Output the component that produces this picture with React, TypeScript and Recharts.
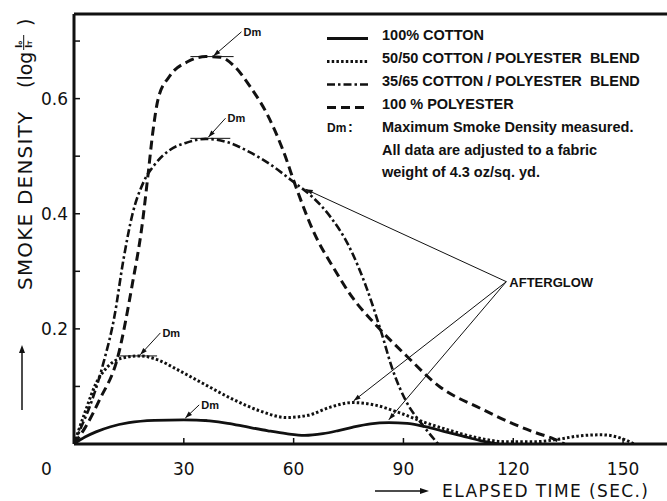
import { Legend, Line, LineChart, ReferenceDot, ReferenceLine, XAxis, YAxis } from "recharts";

// elapsed time (s) / smoke density
const cottonT = [0, 3, 6, 10, 15, 22, 30, 37, 42, 47, 53, 58, 63, 68, 72, 76, 81, 86, 91, 96, 101, 106, 111, 116];
const cottonV = [0, 0.012, 0.021, 0.03, 0.037, 0.041, 0.042, 0.04, 0.036, 0.03, 0.023, 0.018, 0.015, 0.018, 0.023, 0.029, 0.035, 0.037, 0.036, 0.03, 0.022, 0.014, 0.006, 0];

const blend5050T = [0, 3, 6, 9, 13, 18, 23, 28, 35, 43, 51, 58, 64, 70, 76, 82, 89, 96, 103, 110, 118, 126, 132, 138, 144, 149, 153];
const blend5050V = [0, 0.055, 0.105, 0.133, 0.149, 0.153, 0.146, 0.13, 0.106, 0.079, 0.057, 0.046, 0.05, 0.064, 0.072, 0.068, 0.054, 0.037, 0.023, 0.011, 0.004, 0.004, 0.008, 0.014, 0.016, 0.011, 0];

const blend3565T = [0, 2, 4, 8, 11, 13.5, 16, 19, 22, 26, 31, 36, 42, 48, 54, 60, 65, 70, 75, 80, 84, 87, 91, 95, 99.5];
const blend3565V = [0, 0.03, 0.06, 0.14, 0.22, 0.32, 0.4, 0.455, 0.485, 0.51, 0.524, 0.53, 0.524, 0.507, 0.484, 0.455, 0.43, 0.395, 0.345, 0.27, 0.193, 0.13, 0.071, 0.035, 0];

const polyT = [0, 3, 7, 12, 16, 18.5, 20.3, 21.5, 23, 26, 31, 36, 40, 44, 48, 53, 57, 61, 65.5, 71, 76, 82, 91, 100, 111, 120, 126, 131, 134];
const polyV = [0, 0.028, 0.077, 0.152, 0.28, 0.375, 0.472, 0.54, 0.6, 0.638, 0.664, 0.673, 0.672, 0.655, 0.622, 0.57, 0.512, 0.44, 0.368, 0.305, 0.255, 0.21, 0.152, 0.099, 0.062, 0.035, 0.02, 0.009, 0];

const SERIES_NAMES = ["100% COTTON", "50/50 COTTON / POLYESTER  BLEND", "35/65 COTTON / POLYESTER  BLEND", "100 % POLYESTER"];
const NOTE_LINES = ["Maximum Smoke Density measured.", "All data are adjusted to a fabric", "weight of 4.3 oz/sq. yd."];

const X_TICKS = [0, 30, 60, 90, 120, 150];
const Y_TICKS = [0.1, 0.2, 0.3, 0.4, 0.5, 0.6, 0.7];
const Y_LABELED = [0.2, 0.4, 0.6];
const X_MAX = 162;
const Y_MAX = 0.747;

// Dm markers: cotton, 50/50, 35/65, polyester
const dmFrom = [24.4, 12.6, 31.8, 31.8];
const dmTo = [36.4, 22.7, 42.7, 43.6];
const dmLevel = [0.042, 0.153, 0.531, 0.673];
const dmTailT = [34.2, 23.6, 41.4, 45.75];
const dmTailV = [0.068, 0.193, 0.566, 0.716];
const dmHeadT = [30.4, 18.1, 36.7, 38.1];
const dmHeadV = [0.045, 0.155, 0.533, 0.674];

// afterglow pointer
const glowT = 118.1;
const glowV = 0.282;
const glowTargetT = [63.3, 76.4, 86];
const glowTargetV = [0.4425, 0.075, 0.042];

const INK = "#111";
const STYLES = [
  { dash: undefined, width: 2.8 },
  { dash: "2.5 2.2", width: 3 },
  { dash: "8 3 2.5 3", width: 2.6 },
  { dash: "9 5", width: 3 },
];

const zip = (t: number[], v: number[]) => t.map((x, i) => ({ t: x, v: v[i] }));
const SERIES_DATA = [zip(cottonT, cottonV), zip(blend5050T, blend5050V), zip(blend3565T, blend3565V), zip(polyT, polyV)];

function arrowHead(x1: number, y1: number, x2: number, y2: number, len = 7, half = 2.4) {
  const a = Math.atan2(y2 - y1, x2 - x1);
  const bx = x2 - len * Math.cos(a);
  const by = y2 - len * Math.sin(a);
  const s = Math.sin(a), c = Math.cos(a);
  return `${x2},${y2} ${bx + half * s},${by - half * c} ${bx - half * s},${by + half * c}`;
}

function ArrowLine(p: any) {
  const { x1, y1, x2, y2 } = p;
  return (
    <g>
      <line x1={x1} y1={y1} x2={x2} y2={y2} stroke={INK} strokeWidth={1} />
      <polygon points={arrowHead(x1, y1, x2, y2)} fill={INK} />
    </g>
  );
}

function XTick({ x, y, payload }: any) {
  const v = payload.value;
  if (v === 0) {
    return (
      <text x={x - 27.5} y={y + 31} textAnchor="middle" fontSize={17} fontFamily="DejaVu Sans" fill={INK}>
        0
      </text>
    );
  }
  return (
    <g>
      <line x1={x} y1={y} x2={x} y2={y - 6} stroke={INK} strokeWidth={1.5} />
      <text x={x} y={y + 31} textAnchor="middle" fontSize={17} fontFamily="DejaVu Sans" fill={INK}>
        {v}
      </text>
    </g>
  );
}

function YTick({ x, y, payload }: any) {
  const v = payload.value;
  return (
    <g>
      <line x1={x} y1={y} x2={x + 6} y2={y} stroke={INK} strokeWidth={1.5} />
      {Y_LABELED.includes(v) && (
        <text x={x - 6} y={y + 6} textAnchor="end" fontSize={17} fontFamily="DejaVu Sans" fill={INK}>
          {v.toFixed(1)}
        </text>
      )}
    </g>
  );
}

function YTitle({ viewBox }: any) {
  const bx = viewBox.x + 32;
  const by = viewBox.y + viewBox.height - 154;
  const ax = viewBox.x + 22;
  const font = { fontFamily: "DejaVu Sans", fill: INK };
  return (
    <g>
      <g transform={`translate(${bx},${by}) rotate(-90)`} {...font}>
        <text x={0} y={0} fontSize={20} letterSpacing={1.2}>SMOKE DENSITY</text>
        <text x={202} y={0} fontSize={19}>(log</text>
        <text x={242} y={-10} fontSize={9} fontWeight="bold">
          I<tspan fontSize={6}>o</tspan>
        </text>
        <line x1={240} x2={255} y1={-8.3} y2={-8.3} stroke={INK} strokeWidth={1} />
        <text x={242} y={0} fontSize={9} fontWeight="bold">
          I<tspan fontSize={6}>T</tspan>
        </text>
        <text x={264} y={0} fontSize={19}>)</text>
      </g>
      <line x1={ax} y1={viewBox.y + 396} x2={ax} y2={viewBox.y + 338} stroke={INK} strokeWidth={1.5} />
      <polygon points={arrowHead(ax, viewBox.y + 396, ax, viewBox.y + 331, 8, 3)} fill={INK} />
    </g>
  );
}

function XTitle({ viewBox }: any) {
  const y = viewBox.y + 47;
  return (
    <g>
      <line x1={375} y1={y} x2={420} y2={y} stroke={INK} strokeWidth={1.5} />
      <polygon points={arrowHead(375, y, 429, y, 9, 3)} fill={INK} />
      <text x={442} y={viewBox.y + 52.5} fontSize={17} fontFamily="DejaVu Sans" letterSpacing={1.4} fill={INK}>
        ELAPSED TIME (SEC.)
      </text>
    </g>
  );
}

function LegendBox() {
  const rowY = [40, 63, 86, 109];
  const noteY = [132, 155, 177];
  const font = { fontFamily: "Liberation Sans", fontWeight: "bold" as const, fontSize: 14.5, fill: INK };
  return (
    <svg width={340} height={185} style={{ display: "block" }}>
      {SERIES_NAMES.map((name, i) => (
        <g key={name}>
          <line x1={0} x2={41} y1={rowY[i] - 1.5} y2={rowY[i] - 1.5} stroke={INK} strokeWidth={STYLES[i].width} strokeDasharray={STYLES[i].dash} />
          <text x={55} y={rowY[i]} {...font} style={{ whiteSpace: "pre" }}>
            {name}
          </text>
        </g>
      ))}
      <text x={0} y={noteY[0]} {...font} fontSize={12}>Dm</text>
      <text x={21} y={noteY[0]} {...font}>:</text>
      {NOTE_LINES.map((s, i) => (
        <text key={s} x={55} y={noteY[i]} {...font}>
          {s}
        </text>
      ))}
    </svg>
  );
}

export default function App() {
  return (
    <div style={{ position: "absolute", left: 0, top: 0, background: "#fff" }}>
      <LineChart width={667} height={501} margin={{ top: 14, right: 0, bottom: 0, left: 0 }}>
        <XAxis
          type="number"
          dataKey="t"
          domain={[0, X_MAX]}
          ticks={X_TICKS}
          interval={0}
          allowDataOverflow
          height={57}
          tickSize={0}
          tickMargin={0}
          tick={(p: any) => <XTick {...p} />}
          axisLine={{ stroke: INK, strokeWidth: 3 }}
          label={{ content: (p: any) => <XTitle {...p} /> }}
        />
        <YAxis
          type="number"
          domain={[0, Y_MAX]}
          ticks={Y_TICKS}
          interval={0}
          allowDataOverflow
          width={74}
          tickSize={0}
          tickMargin={0}
          tick={(p: any) => <YTick {...p} />}
          axisLine={{ stroke: INK, strokeWidth: 3 }}
          label={{ content: (p: any) => <YTitle {...p} /> }}
        />
        <ReferenceLine y={Y_MAX} stroke={INK} strokeWidth={3} ifOverflow="visible" />
        {SERIES_DATA.map((d, i) => (
          <Line
            key={SERIES_NAMES[i]}
            data={d}
            dataKey="v"
            name={SERIES_NAMES[i]}
            type="monotone"
            stroke={INK}
            strokeWidth={STYLES[i].width}
            strokeDasharray={STYLES[i].dash}
            dot={false}
            activeDot={false}
            isAnimationActive={false}
          />
        ))}
        {dmLevel.map((v, i) => (
          <ReferenceLine
            key={`dm-seg-${i}`}
            segment={[{ x: dmFrom[i], y: v }, { x: dmTo[i], y: v }]}
            stroke={INK}
            strokeWidth={1}
            ifOverflow="visible"
          />
        ))}
        {dmLevel.map((_, i) => (
          <ReferenceLine
            key={`dm-arrow-${i}`}
            segment={[{ x: dmTailT[i], y: dmTailV[i] }, { x: dmHeadT[i], y: dmHeadV[i] }]}
            ifOverflow="visible"
            shape={(p: any) => <ArrowLine {...p} />}
          />
        ))}
        {dmLevel.map((_, i) => (
          <ReferenceDot
            key={`dm-label-${i}`}
            x={dmTailT[i]}
            y={dmTailV[i]}
            r={0}
            ifOverflow="visible"
            shape={(p: any) => (
              <text x={p.cx + 2} y={p.cy + 4} fontSize={11} fontWeight="bold" fontFamily="Liberation Sans" fill={INK}>
                Dm
              </text>
            )}
          />
        ))}
        {glowTargetT.map((t, i) => (
          <ReferenceLine
            key={`glow-${i}`}
            segment={[{ x: glowT, y: glowV }, { x: t, y: glowTargetV[i] }]}
            ifOverflow="visible"
            shape={(p: any) => <ArrowLine {...p} />}
          />
        ))}
        <ReferenceDot
          x={glowT}
          y={glowV}
          r={0}
          ifOverflow="visible"
          shape={(p: any) => (
            <text x={p.cx + 3} y={p.cy + 5} fontSize={13} fontWeight="bold" fontFamily="Liberation Sans" fill={INK}>
              AFTERGLOW
            </text>
          )}
        />
        <Legend
          layout="horizontal"
          verticalAlign="middle"
          align="center"
          wrapperStyle={{ position: "absolute", left: 327, top: 0, width: 340, margin: 0, padding: 0 }}
          content={() => <LegendBox />}
        />
      </LineChart>
    </div>
  );
}
